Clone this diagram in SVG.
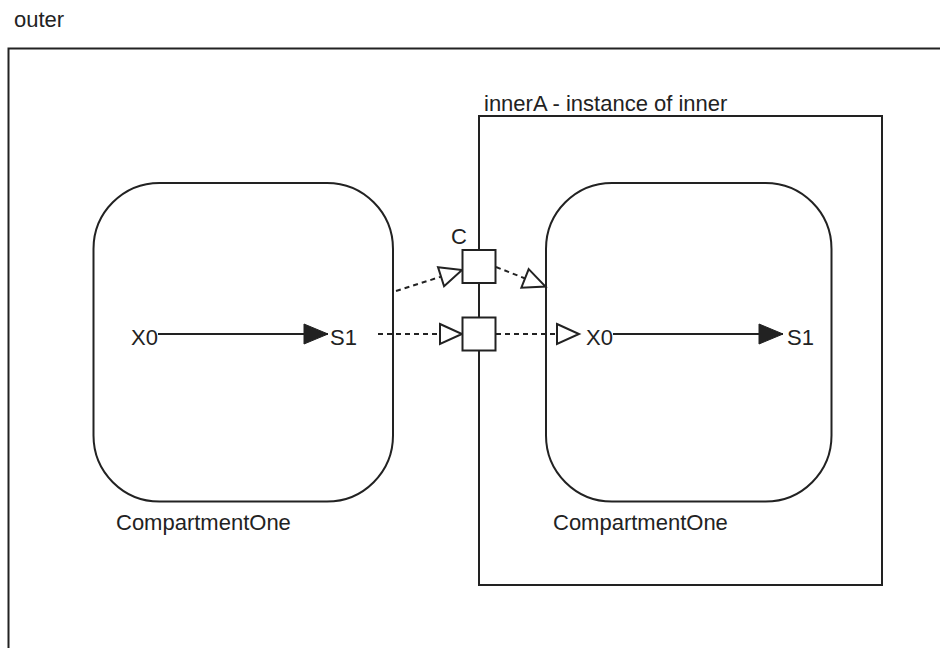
<svg xmlns="http://www.w3.org/2000/svg" width="940" height="648" viewBox="0 0 940 648">
<defs>
<style>
text{font-family:"Liberation Sans",Arial,sans-serif;font-size:22px;fill:#222}
.box{fill:none;stroke:#222;stroke-width:2}
.comp{fill:none;stroke:#222;stroke-width:2}
.port{fill:#fff;stroke:#222;stroke-width:2}
.solid{stroke:#222;stroke-width:2;fill:none}
.dash{stroke:#222;stroke-width:2;fill:none;stroke-dasharray:5 4}
</style>
<marker id="filled" markerUnits="userSpaceOnUse" markerWidth="26" markerHeight="22" refX="24" refY="10" orient="auto" overflow="visible">
<path d="M0,0 L24,10 L0,20 Z" fill="#222" stroke="#222" stroke-width="1"/>
</marker>
<marker id="hollow" markerUnits="userSpaceOnUse" markerWidth="26" markerHeight="22" refX="22" refY="10" orient="auto" overflow="visible">
<path d="M0,0 L22,10 L0,20 Z" fill="#fff" stroke="#222" stroke-width="2"/>
</marker>
</defs>
<g id="outer">
<text x="14" y="27">outer</text>
<rect class="box" x="8.5" y="48.5" width="1000" height="700"/>
</g>
<g id="innerA">
<text x="484" y="111">innerA - instance of inner</text>
<rect class="box" x="479" y="116" width="403" height="469"/>
</g>
<g id="compartmentLeft">
<rect class="comp" x="93.5" y="183" width="299.5" height="318.5" rx="66" ry="66"/>
<text x="116" y="530">CompartmentOne</text>
<text x="131" y="345">X0</text>
<text x="330" y="345">S1</text>
</g>
<g id="compartmentRight">
<rect class="comp" x="546" y="183" width="285.5" height="318.5" rx="66" ry="66"/>
<text x="553" y="530">CompartmentOne</text>
<text x="586" y="345">X0</text>
<text x="787" y="345">S1</text>
</g>
<g id="connectors">
<line class="solid" x1="158" y1="334" x2="328" y2="334" marker-end="url(#filled)"/>
<line class="solid" x1="613" y1="334" x2="783" y2="334" marker-end="url(#filled)"/>
<line class="dash" x1="396" y1="291" x2="462" y2="270" marker-end="url(#hollow)"/>
<line class="dash" x1="496" y1="267" x2="545.5" y2="286.5" marker-end="url(#hollow)"/>
<line class="dash" x1="378" y1="334" x2="462" y2="334" marker-end="url(#hollow)"/>
<line class="dash" x1="496" y1="334" x2="579" y2="334" marker-end="url(#hollow)"/>
</g>
<g id="portC">
<rect class="port" x="462.5" y="250" width="33" height="33"/>
<text x="451" y="244">C</text>
</g>
<g id="port2">
<rect class="port" x="462.5" y="317.5" width="33" height="33"/>
</g>
</svg>
